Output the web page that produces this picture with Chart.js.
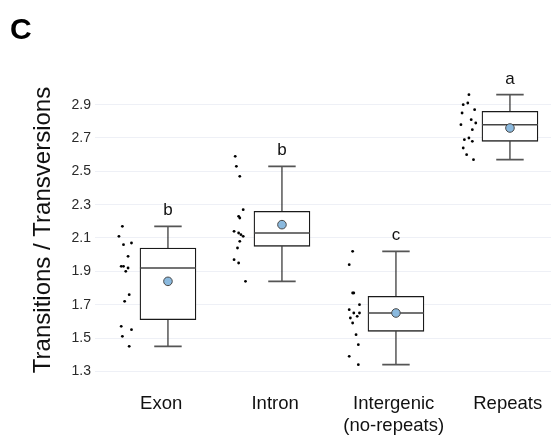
<!DOCTYPE html>
<html>
<head>
<meta charset="utf-8">
<script src="https://cdn.jsdelivr.net/npm/chart.js@4.4.1/dist/chart.umd.min.js"></script>
<style>
  html, body { margin: 0; padding: 0; background: #ffffff; }
  #wrap { width: 551px; height: 443px; position: relative; }
</style>
</head>
<body>
<div id="wrap"><canvas id="chart" width="551" height="443"></canvas></div>
<script>
// Categories and significance groups
const categories = ['Exon', 'Intron', ['Intergenic', '(no-repeats)'], 'Repeats'];
const groupLetters = ['b', 'b', 'c', 'a'];

// Box summaries (Ts/Tv ratio)
const whiskerLow  = [1.45, 1.84, 1.34, 2.57];
const quartile1   = [1.61, 2.05, 1.54, 2.68];
const medians     = [1.92, 2.13, 1.65, 2.78];
const quartile3   = [2.04, 2.26, 1.75, 2.86];
const whiskerHigh = [2.17, 2.53, 2.02, 2.96];
const means       = [1.84, 2.18, 1.65, 2.76];

// Individual observations per category, with their horizontal jitter
const exonValues = [2.17, 2.11, 2.06, 2.07, 1.99, 1.93, 1.93, 1.92, 1.90, 1.76, 1.72, 1.57, 1.55, 1.51, 1.45];
const exonJitter = [-0.40, -0.43, -0.39, -0.32, -0.35, -0.41, -0.39, -0.35, -0.37, -0.34, -0.38, -0.41, -0.32, -0.40, -0.34];
const intronValues = [2.59, 2.53, 2.47, 2.27, 2.23, 2.22, 2.14, 2.13, 2.12, 2.11, 2.08, 2.04, 1.97, 1.95, 1.84];
const intronJitter = [-0.41, -0.40, -0.37, -0.34, -0.38, -0.37, -0.42, -0.38, -0.36, -0.34, -0.37, -0.39, -0.42, -0.38, -0.32];
const intergenicValues = [2.02, 1.94, 1.77, 1.77, 1.70, 1.67, 1.65, 1.65, 1.63, 1.62, 1.59, 1.52, 1.46, 1.39, 1.34];
const intergenicJitter = [-0.38, -0.41, -0.38, -0.37, -0.32, -0.41, -0.37, -0.32, -0.34, -0.40, -0.38, -0.35, -0.33, -0.41, -0.33];
const repeatsValues = [2.96, 2.90, 2.91, 2.87, 2.85, 2.78, 2.81, 2.79, 2.75, 2.70, 2.69, 2.68, 2.64, 2.60, 2.57];
const repeatsJitter = [-0.36, -0.41, -0.37, -0.31, -0.42, -0.43, -0.34, -0.30, -0.33, -0.36, -0.40, -0.33, -0.41, -0.38, -0.32];

// Axis ticks
const yTicks = [1.3, 1.5, 1.7, 1.9, 2.1, 2.3, 2.5, 2.7, 2.9];

// ---- derived structures ----
const groupValues = [exonValues, intronValues, intergenicValues, repeatsValues];
const groupJitter = [exonJitter, intronJitter, intergenicJitter, repeatsJitter];

const boxData = quartile1.map((q1, i) => ({ x: i, y: [q1, quartile3[i]] }));
const meanData = means.map((m, i) => ({ x: i, y: m }));
const pointData = [];
groupValues.forEach((vals, i) => {
  vals.forEach((v, j) => pointData.push({ x: i + groupJitter[i][j], y: v }));
});

// label anchor shifts along the category axis
const labelShift = [-0.06, -0.06, -0.02, -0.02];

const FONT = "'Liberation Sans', Arial, Helvetica, sans-serif";

// whiskers, caps and median lines drawn over the box bodies
const boxLines = {
  id: 'boxLines',
  afterDatasetDraw(chart, args) {
    if (args.meta.type !== 'bar') return;
    const ctx = chart.ctx;
    const xs = chart.scales.x, ys = chart.scales.y;
    args.meta.data.forEach((bar, i) => {
      const cx = xs.getPixelForValue(i);
      const half = bar.width / 2;
      const cap = bar.width * 0.245;
      ctx.save();
      ctx.strokeStyle = '#1a1a1a';
      ctx.lineWidth = 1.1;
      ctx.beginPath();
      ctx.moveTo(cx, ys.getPixelForValue(quartile3[i]));
      ctx.lineTo(cx, ys.getPixelForValue(whiskerHigh[i]));
      ctx.moveTo(cx, ys.getPixelForValue(quartile1[i]));
      ctx.lineTo(cx, ys.getPixelForValue(whiskerLow[i]));
      ctx.stroke();
      ctx.strokeStyle = '#555555';
      ctx.lineWidth = 1.6;
      ctx.beginPath();
      ctx.moveTo(cx - cap, ys.getPixelForValue(whiskerHigh[i]));
      ctx.lineTo(cx + cap, ys.getPixelForValue(whiskerHigh[i]));
      ctx.moveTo(cx - cap, ys.getPixelForValue(whiskerLow[i]));
      ctx.lineTo(cx + cap, ys.getPixelForValue(whiskerLow[i]));
      ctx.stroke();
      ctx.strokeStyle = '#444444';
      ctx.lineWidth = 1.5;
      ctx.beginPath();
      ctx.moveTo(cx - half, ys.getPixelForValue(medians[i]));
      ctx.lineTo(cx + half, ys.getPixelForValue(medians[i]));
      ctx.stroke();
      ctx.restore();
    });
  }
};

// group letters above the whiskers and the panel tag
const annotations = {
  id: 'annotations',
  afterDraw(chart) {
    const ctx = chart.ctx;
    const xs = chart.scales.x, ys = chart.scales.y;
    ctx.save();
    ctx.fillStyle = '#111111';
    ctx.font = '17px ' + FONT;
    ctx.textAlign = 'center';
    ctx.textBaseline = 'alphabetic';
    groupLetters.forEach((g, i) => {
      ctx.fillText(g, xs.getPixelForValue(i), ys.getPixelForValue(whiskerHigh[i]) - 11);
    });
    ctx.font = 'bold 30px ' + FONT;
    ctx.textAlign = 'left';
    ctx.fillStyle = '#000000';
    ctx.fillText('C', 10, 39);
    ctx.restore();
  }
};

new Chart(document.getElementById('chart'), {
  type: 'bar',
  data: {
    datasets: [
      {
        type: 'scatter',
        data: meanData,
        pointRadius: 4.3,
        pointHoverRadius: 4.3,
        backgroundColor: '#8ab9de',
        borderColor: '#4a4a4a',
        borderWidth: 1,
        order: 1
      },
      {
        type: 'scatter',
        data: pointData,
        pointRadius: 1.4,
        pointHoverRadius: 1.4,
        backgroundColor: '#000000',
        borderWidth: 0,
        order: 2
      },
      {
        type: 'bar',
        data: boxData,
        backgroundColor: '#ffffff',
        borderColor: '#1a1a1a',
        borderWidth: 1.3,
        borderSkipped: false,
        barThickness: 56,
        order: 3
      }
    ]
  },
  options: {
    responsive: false,
    animation: false,
    events: [],
    layout: { autoPadding: false, padding: { top: 72, left: 0, right: 0, bottom: 0 } },
    plugins: { legend: { display: false }, tooltip: { enabled: false } },
    scales: {
      x: {
        type: 'linear',
        min: -0.64,
        max: 3.36,
        offset: false,
        grid: { display: false, offset: false },
        border: { display: false },
        afterBuildTicks(scale) {
          scale.ticks = labelShift.map((s, i) => ({ value: i + s }));
        },
        afterFit(scale) {
          scale.height = 55;
          scale.paddingLeft = 0;
          scale.paddingRight = 0;
        },
        ticks: {
          autoSkip: false,
          maxRotation: 0,
          padding: -3,
          color: '#111111',
          font: { family: FONT, size: 18.5, lineHeight: 1.2 },
          callback: (v, idx) => categories[idx]
        }
      },
      y: {
        min: 1.2,
        max: 3.096,
        afterBuildTicks(scale) {
          scale.ticks = yTicks.map(v => ({ value: v }));
        },
        afterFit(scale) {
          scale.width = 95;
          scale.paddingTop = 0;
          scale.paddingBottom = 0;
        },
        grid: { color: '#eef0f6', lineWidth: 1, drawTicks: false },
        border: { display: false },
        ticks: {
          padding: 4,
          color: '#2a2a2a',
          font: { family: FONT, size: 14 },
          callback: v => v.toFixed(1)
        },
        title: {
          display: true,
          text: 'Transitions / Transversions',
          color: '#111111',
          font: { family: FONT, size: 24, weight: 'normal' },
          padding: { top: 29, bottom: 0 }
        }
      }
    }
  },
  plugins: [boxLines, annotations]
});
</script>
</body>
</html>
